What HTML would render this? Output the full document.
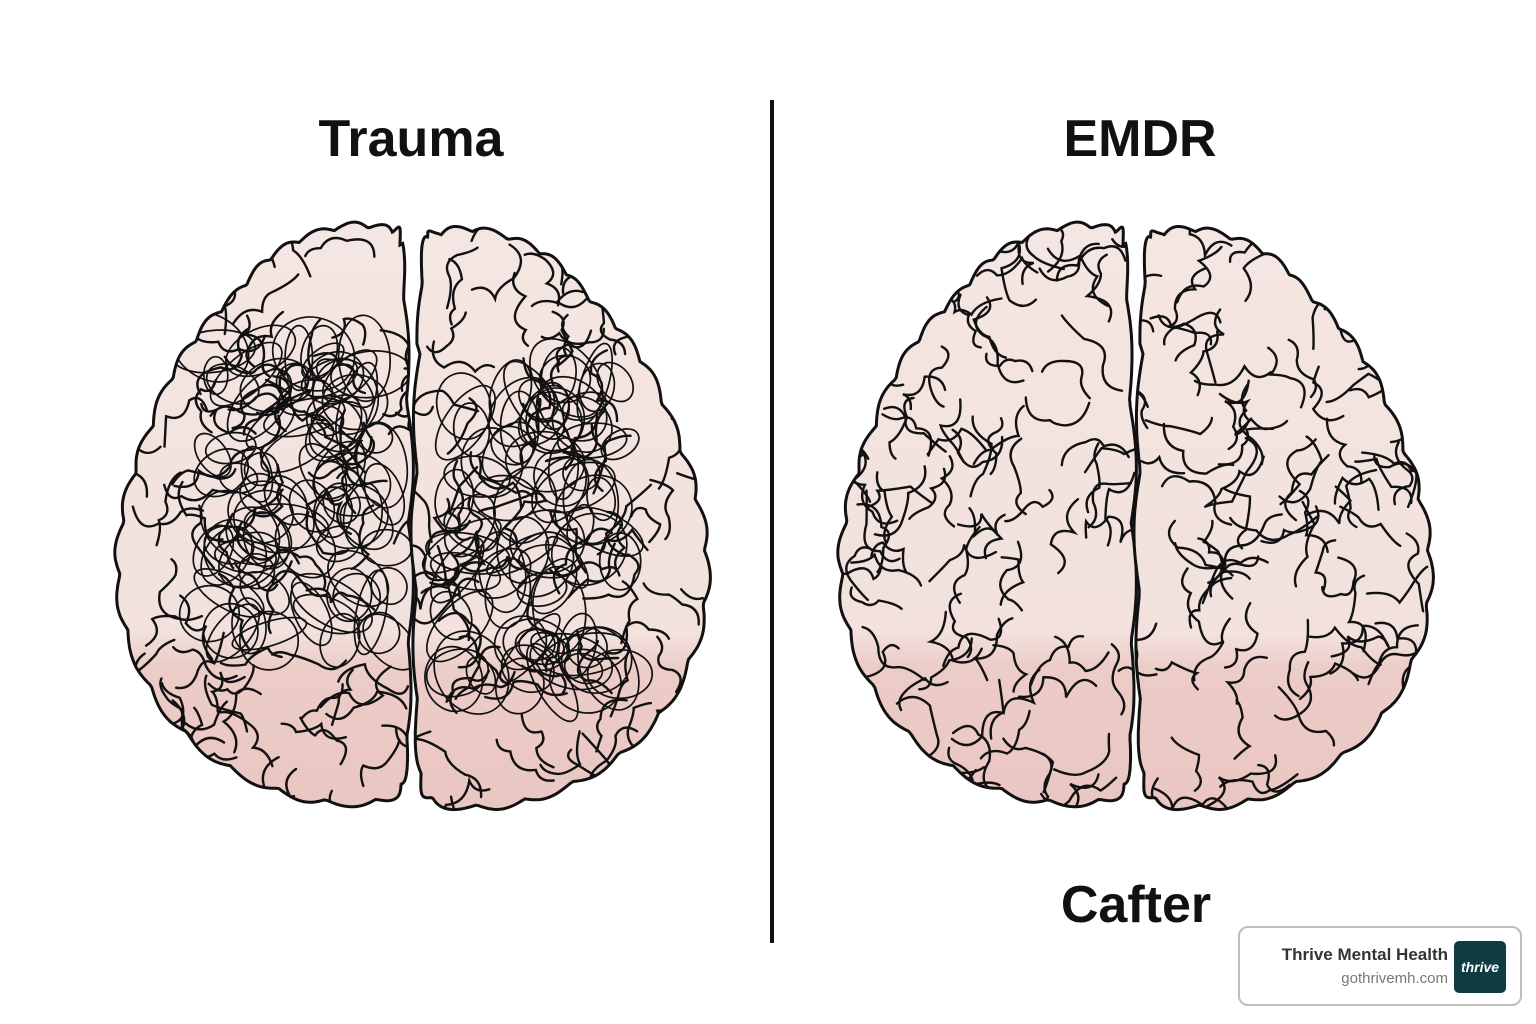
<!DOCTYPE html>
<html><head><meta charset="utf-8"><style>
html,body{margin:0;padding:0;background:#fff;width:1536px;height:1024px;overflow:hidden}
svg{position:absolute;left:0;top:0}
.t{font-family:"Liberation Sans",sans-serif;font-weight:bold;fill:#111;text-anchor:middle}
.badge{position:absolute;left:1238px;top:926px;width:280px;height:76px;border:2px solid #bdbdbd;border-radius:10px;background:#fff;font-family:"Liberation Sans",sans-serif}
.b1{position:absolute;right:72px;top:17px;font-size:17px;font-weight:bold;color:#333}
.b2{position:absolute;right:72px;top:42px;font-size:15px;color:#777}
.logo{position:absolute;left:214px;top:13px;width:52px;height:52px;background:#0e3c42;border-radius:5px;color:#fff;font-style:italic;font-weight:bold;font-size:14px;text-align:center;line-height:52px}
</style></head><body>
<svg id="s" width="1536" height="1024" viewBox="0 0 1536 1024">
<defs>
<linearGradient id="g" x1="0" y1="0" x2="0" y2="1">
<stop offset="0" stop-color="#f4e6e2"/><stop offset="0.7" stop-color="#f2e1dd"/><stop offset="0.76" stop-color="#ecccc7"/><stop offset="1" stop-color="#eac6c1"/>
</linearGradient>
</defs>
<line x1="772" y1="100" x2="772" y2="943" stroke="#111" stroke-width="4"/>
<text class="t" x="411" y="156" font-size="52">Trauma</text>
<text class="t" x="1140" y="156" font-size="52">EMDR</text>
<text class="t" x="1136" y="922" font-size="52">Cafter</text>
</svg>
<div class="badge"><div class="b1">Thrive Mental Health</div><div class="b2">gothrivemh.com</div><div class="logo">thrive</div></div>
<script>
var NS="http://www.w3.org/2000/svg",S=document.getElementById('s');
var seed=11;function r(){seed=(seed*16807)%2147483647;return seed/2147483647;}
var base=[[400,245],[388,232],[350,228],[305,240],[268,262],[238,295],[205,330],[175,375],[150,435],[130,495],[120,560],[128,630],[160,700],[210,752],[270,785],[330,800],[390,795],[405,760],[408,650],[408,500],[405,350]];
function pathFrom(pts){
 var n=pts.length,out=[];
 for(var i=0;i<n;i++){var p0=pts[(i-1+n)%n],p1=pts[i],p2=pts[(i+1)%n],p3=pts[(i+2)%n];
  for(var t=0;t<1;t+=0.05){var t2=t*t,t3=t2*t;
   var x=0.5*((2*p1[0])+(-p0[0]+p2[0])*t+(2*p0[0]-5*p1[0]+4*p2[0]-p3[0])*t2+(-p0[0]+3*p1[0]-3*p2[0]+p3[0])*t3);
   var y=0.5*((2*p1[1])+(-p0[1]+p2[1])*t+(2*p0[1]-5*p1[1]+4*p2[1]-p3[1])*t2+(-p0[1]+3*p1[1]-3*p2[1]+p3[1])*t3);
   out.push([x,y]);}}
 var cx=0,cy=0;out.forEach(function(p){cx+=p[0];cy+=p[1]});cx/=out.length;cy/=out.length;
 var d="";out.forEach(function(p,k){var dx=p[0]-cx,dy=p[1]-cy,l=Math.hypot(dx,dy),b=6*Math.abs(Math.sin(k*0.2));
  var x=p[0]+dx/l*b,y=p[1]+dy/l*b;d+=(k?"L":"M")+x.toFixed(1)+","+y.toFixed(1);});
 return d+"Z";
}
function el(t,a){var e=document.createElementNS(NS,t);for(var k in a)e.setAttribute(k,a[k]);S.appendChild(e);return e;}
var id=0;
function hemi(mirror,dx,scribble){
 var pts=base.map(function(p){return [(mirror?825-p[0]:p[0])+dx,p[1]+(mirror?4:0)];});
 if(mirror)pts.reverse();
 var d=pathFrom(pts);id++;
 var cp=document.createElementNS(NS,'clipPath');cp.id='c'+id;var pp=document.createElementNS(NS,'path');pp.setAttribute('d',d);cp.appendChild(pp);S.querySelector('defs').appendChild(cp);
 el('path',{d:d,fill:'url(#g)',stroke:'none'});
 var g=el('g',{'clip-path':'url(#c'+id+')',fill:'none',stroke:'#111','stroke-width':2.4,'stroke-linecap':'round'});
 var xs=pts.map(function(p){return p[0]}),minx=Math.min.apply(0,xs),maxx=Math.max.apply(0,xs);
 for(var i=0;i<105;i++){var x=minx+r()*(maxx-minx),y=230+r()*570;
  var a=r()*6.28,s="M"+x.toFixed(1)+","+y.toFixed(1);
  for(var j=0;j<3;j++){var L=16+r()*18;a+=(r()-0.5)*2.8;var x2=x+Math.cos(a)*L,y2=y+Math.sin(a)*L;
   var a2=a+(r()-0.5)*2.4;var cxp=x+Math.cos(a2)*L*0.7,cyp=y+Math.sin(a2)*L*0.7;
   s+="Q"+cxp.toFixed(1)+","+cyp.toFixed(1)+" "+x2.toFixed(1)+","+y2.toFixed(1);x=x2;y=y2;}
  var e=document.createElementNS(NS,'path');e.setAttribute('d',s);g.appendChild(e);}
 if(scribble){var sg=el('g',{'clip-path':'url(#c'+id+')',fill:'none',stroke:'#111','stroke-width':1.7});
  for(var i=0;i<85;i++){var cx=scribble[0]+r()*scribble[2],cy=scribble[1]+r()*scribble[3];
   var e=document.createElementNS(NS,'ellipse');e.setAttribute('cx',cx.toFixed(1));e.setAttribute('cy',cy.toFixed(1));
   e.setAttribute('rx',(15+r()*30).toFixed(1));e.setAttribute('ry',(12+r()*25).toFixed(1));
   e.setAttribute('transform','rotate('+(r()*180).toFixed(0)+' '+cx.toFixed(1)+' '+cy.toFixed(1)+')');sg.appendChild(e);}}
 el('path',{d:d,fill:'none',stroke:'#111','stroke-width':3});
}
hemi(false,0,[205,345,185,300]);
hemi(true,0,[450,370,190,320]);
hemi(false,723,null);
hemi(true,723,null);
</script>
</body></html>
